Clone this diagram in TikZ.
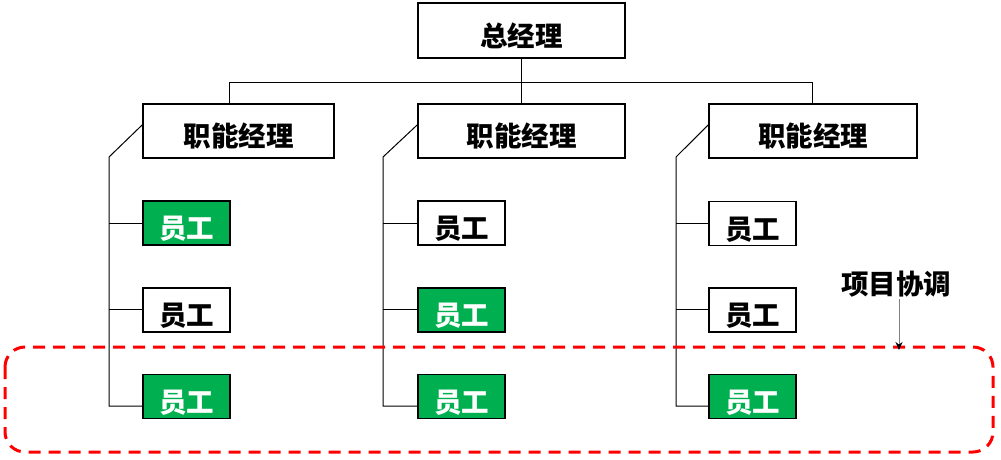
\documentclass[tikz,border=0pt]{standalone}
\usepackage{fontspec}
\newfontfamily\cjk{Noto Sans CJK SC}
\usetikzlibrary{arrows.meta}
\definecolor{ggreen}{HTML}{00B050}
\begin{document}
\begin{tikzpicture}[x=1pt,y=-1pt,
  box/.style={draw=black,line width=1.8pt,fill=white,inner sep=0pt,text height=31pt,text depth=0pt,font=\cjk\bfseries\fontsize{27.5}{30}\selectfont},
  mgr/.style={box,minimum height=54pt},
  emp/.style={box,minimum width=87pt,minimum height=44pt},
  gemp/.style={emp,fill=ggreen,text=white},
  conn/.style={draw=black,line width=1pt},
  lbl/.style={font=\cjk\bfseries\fontsize{27.5}{30}\selectfont,inner sep=0pt}]
\useasboundingbox (0,0) rectangle (1001,459);
% boxes
\node[box,minimum width=207pt,minimum height=55pt] (top) at (521.5,30.5) {总经理};
\node[mgr,minimum width=191pt] (m1) at (238.5,131) {职能经理};
\node[mgr,minimum width=207pt] (m2) at (521.5,131) {职能经理};
\node[mgr,minimum width=208pt] (m3) at (813,131) {职能经理};
% column 1
\node[gemp] (e11) at (186.5,223) {员工};
\node[emp]  (e12) at (186.5,310) {员工};
\node[gemp] (e13) at (186.5,396.5) {员工};
% column 2
\node[emp]  (e21) at (461.5,223) {员工};
\node[gemp] (e22) at (461.5,310) {员工};
\node[gemp] (e23) at (461.5,396.5) {员工};
% column 3
\node[emp]  (e31) at (752.5,223.5) {员工};
\node[emp]  (e32) at (752.5,310) {员工};
\node[gemp] (e33) at (752.5,396.5) {员工};
% top connectors
\coordinate (bl) at (229,82);
\coordinate (br) at (812,82);
\draw[conn] (top.south) -- (m2.north);
\draw[conn] (bl |- m1.north) -- (bl) -- (br) -- (br |- m3.north);
% column spines
\foreach \m/\x/\a/\b/\c in {m1/109/e11/e12/e13, m2/383/e21/e22/e23, m3/676/e31/e32/e33}{
  \coordinate (s) at (\x,157);
  \draw[conn] ([yshift=6pt]\m.west) -- (s) -- (\x,406) -- (\c.west |- 0,406);
  \draw[conn] (\x,223) -- (\a.west |- 0,223);
  \draw[conn] (\x,309) -- (\b.west |- 0,309);
}
% dashed region
\draw[red,line width=3pt,dash pattern=on 12pt off 8pt,rounded corners=20pt] (5,347) rectangle (993,452);
% label and arrow
\node[lbl] (pc) at (896,284) {项目协调};
\coordinate (pa) at (899,350);
\draw[draw=gray,line width=1pt,-{Stealth[black,length=8pt,width=7pt]}] (899,299) -- (pa);
\end{tikzpicture}
\end{document}
